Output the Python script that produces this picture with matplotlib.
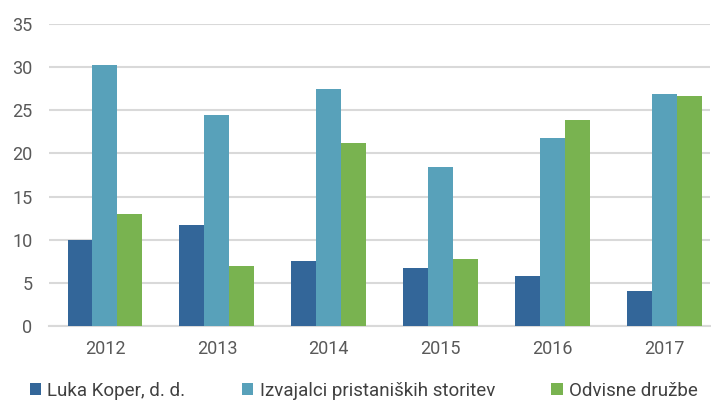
import numpy as np
import matplotlib.pyplot as plt

# =====================
# data
# =====================
years = ['2012', '2013', '2014', '2015', '2016', '2017']
luka_koper = [10.0, 11.7, 7.5, 6.7, 5.8, 4.1]
izvajalci = [30.2, 24.4, 27.5, 18.4, 21.8, 26.9]
odvisne = [13.0, 6.9, 21.2, 7.8, 23.9, 26.6]

series_names = ['Luka Koper, d. d.', 'Izvajalci pristaniških storitev', 'Odvisne družbe']
colors = ['#336699', '#58A1BA', '#79B350']

plt.rcParams['font.family'] = ['Roboto', 'DejaVu Sans']

fig = plt.figure(figsize=(7.11, 4.05), dpi=100)
ax = fig.add_axes([49 / 711, 79 / 405, 661 / 711, 302 / 405])

x = np.arange(len(years))
w = 0.223
for i, (vals, name, c) in enumerate(zip([luka_koper, izvajalci, odvisne], series_names, colors)):
    ax.bar(x + (i - 1) * w, vals, width=w, color=c, label=name, zorder=3)

ax.set_xlim(-0.5, 5.406)
ax.set_ylim(0, 35)
ax.set_yticks(range(0, 36, 5))
ax.set_xticks(x)
ax.set_xticklabels(years)
ax.yaxis.grid(True, color='#D9D9D9', linewidth=1.5, zorder=0)
for s in ['top', 'right', 'left']:
    ax.spines[s].set_visible(False)
ax.spines['bottom'].set_color('#D9D9D9')
ax.spines['bottom'].set_linewidth(1.5)
ax.tick_params(axis='both', length=0, labelsize=13, colors='#595959')
ax.tick_params(axis='x', pad=10)
ax.tick_params(axis='y', pad=12)

leg = fig.legend(loc='center left', bbox_to_anchor=(0.018, 0.035), ncol=3, frameon=False,
                 fontsize=13.5, handlelength=0.6, handleheight=0.6, handletextpad=0.35,
                 columnspacing=3.0, labelcolor='#404040')

fig.savefig('out.png', dpi=100)
